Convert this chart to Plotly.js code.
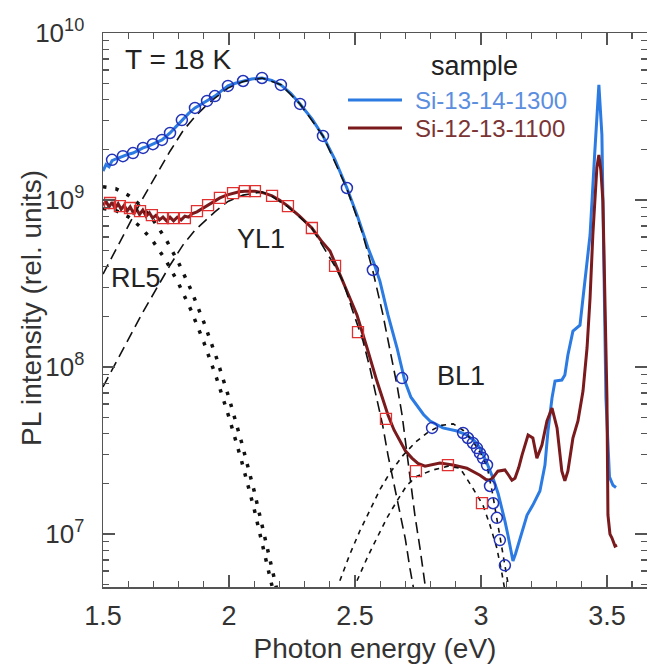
<!DOCTYPE html>
<html>
<head>
<meta charset="utf-8">
<script src="https://cdn.plot.ly/plotly-3.0.1.min.js"></script>
<style>
html,body{margin:0;padding:0;background:#fff;}
#chart{width:647px;height:665px;}
</style>
</head>
<body>
<div id="chart"></div>
<script>
// ---------- measured data (photon energy in eV, PL intensity in rel. units) ----------
// Experimental spectrum, sample Si-13-14-1300 (blue line)
var blueE = [1.500,1.512,1.524,1.536,1.550,1.565,1.579,1.600,1.619,1.640,1.659,1.680,1.698,1.716,1.734,1.750,1.766,1.790,1.813,1.840,1.865,1.890,1.913,1.944,1.970,1.996,2.025,2.056,2.090,2.131,2.170,2.206,2.245,2.282,2.330,2.373,2.420,2.468,2.510,2.552,2.575,2.599,2.631,2.667,2.698,2.722,2.746,2.772,2.798,2.849,2.905,2.944,2.975,2.996,3.024,3.048,3.068,3.083,3.095,3.107,3.118,3.127,3.137,3.147,3.165,3.183,3.206,3.234,3.254,3.266,3.282,3.294,3.308,3.321,3.333,3.345,3.365,3.381,3.393,3.405,3.421,3.433,3.452,3.468,3.480,3.486,3.496,3.510,3.524,3.536];
var blueI = [1.49e9,1.63e9,1.58e9,1.72e9,1.76e9,1.80e9,1.83e9,1.88e9,1.91e9,1.98e9,2.05e9,2.10e9,2.16e9,2.22e9,2.29e9,2.40e9,2.52e9,2.75e9,3.01e9,3.30e9,3.56e9,3.75e9,3.92e9,4.19e9,4.50e9,4.82e9,5.00e9,5.16e9,5.30e9,5.38e9,5.20e9,4.89e9,4.35e9,3.76e9,3.05e9,2.42e9,1.75e9,1.18e9,8.0e8,5.16e8,4.2e8,3.27e8,2.05e8,1.30e8,8.24e7,6.6e7,5.92e7,5.2e7,4.75e7,4.32e7,4.14e7,3.92e7,3.6e7,3.27e7,2.66e7,2.16e7,1.75e7,1.43e7,1.20e7,9.87e6,8.0e6,6.89e6,7.6e6,8.59e6,1.08e7,1.30e7,1.49e7,1.81e7,2.59e7,4.14e7,6.52e7,8.24e7,8.3e7,8.36e7,8.96e7,1.18e8,1.64e8,1.71e8,1.78e8,2.59e8,4.50e8,6.17e8,1.96e9,4.89e9,2.45e9,6.0e8,6.5e7,2.2e7,1.96e7,1.90e7];

// Experimental spectrum, sample Si-12-13-1100 (dark red line)
var redE = [1.500,1.512,1.524,1.536,1.548,1.560,1.572,1.584,1.596,1.608,1.620,1.632,1.645,1.658,1.671,1.684,1.697,1.710,1.724,1.738,1.752,1.766,1.780,1.795,1.810,1.825,1.840,1.855,1.873,1.895,1.917,1.940,1.964,1.990,2.016,2.040,2.063,2.103,2.140,2.171,2.200,2.234,2.280,2.329,2.370,2.401,2.430,2.452,2.480,2.508,2.548,2.587,2.631,2.655,2.679,2.700,2.726,2.750,2.778,2.810,2.837,2.889,2.944,2.996,3.020,3.036,3.050,3.067,3.095,3.110,3.123,3.135,3.150,3.163,3.187,3.206,3.215,3.222,3.242,3.262,3.282,3.302,3.321,3.333,3.345,3.365,3.385,3.405,3.421,3.433,3.444,3.460,3.468,3.476,3.484,3.492,3.500,3.504,3.512,3.520,3.532,3.540];
var redI = [9.3e8,9.8e8,9.1e8,9.7e8,8.9e8,9.5e8,8.8e8,9.3e8,8.6e8,9.1e8,8.4e8,8.9e8,8.2e8,8.7e8,8.0e8,8.4e8,7.8e8,8.1e8,7.6e8,7.9e8,7.5e8,7.9e8,7.5e8,7.9e8,7.6e8,8.0e8,7.9e8,8.3e8,8.5e8,8.9e8,9.3e8,9.8e8,1.03e9,1.07e9,1.10e9,1.12e9,1.13e9,1.13e9,1.10e9,1.06e9,1.00e9,9.2e8,8.0e8,6.8e8,5.6e8,4.95e8,3.9e8,3.27e8,2.6e8,2.05e8,1.30e8,8.24e7,5.16e7,4.2e7,3.61e7,3.15e7,2.85e7,2.65e7,2.55e7,2.6e7,2.66e7,2.59e7,2.48e7,2.25e7,2.12e7,2.10e7,2.2e7,2.38e7,2.42e7,2.25e7,2.10e7,2.16e7,2.5e7,2.97e7,3.92e7,3.76e7,3.2e7,2.85e7,3.41e7,4.75e7,5.68e7,4.32e7,2.38e7,2.08e7,2.38e7,3.76e7,4.75e7,7.18e7,1.30e8,2.59e8,6.17e8,1.56e9,1.86e9,1.5e9,9.86e8,2.59e8,6.52e7,1.30e7,1.0e7,9.47e6,8.47e6,8.59e6];

// Fit (sum of components), open circles for Si-13-14-1300
var blueFitE = [1.536,1.579,1.619,1.659,1.698,1.734,1.766,1.813,1.865,1.913,1.944,1.996,2.056,2.131,2.206,2.282,2.373,2.468,2.571,2.687,2.806,2.929,2.948,2.968,2.984,2.996,3.008,3.024,3.036,3.048,3.063,3.075,3.095];
var blueFitI = [1.74e9,1.83e9,1.91e9,2.05e9,2.16e9,2.29e9,2.52e9,3.01e9,3.56e9,3.92e9,4.19e9,4.82e9,5.16e9,5.38e9,4.89e9,3.76e9,2.42e9,1.18e9,3.81e8,8.59e7,4.32e7,4.03e7,3.76e7,3.51e7,3.27e7,3.05e7,2.85e7,2.59e7,1.94e7,1.53e7,1.25e7,9.2e6,6.5e6];

// Fit (sum of components), open squares for Si-12-13-1100
var redFitE = [1.528,1.567,1.607,1.647,1.694,1.738,1.778,1.825,1.873,1.917,1.964,2.016,2.063,2.103,2.171,2.234,2.329,2.421,2.512,2.623,2.742,2.869,3.004];
var redFitI = [9.6e8,9.2e8,8.96e8,8.59e8,8.13e8,7.8e8,7.8e8,7.8e8,8.59e8,9.33e8,1.03e9,1.10e9,1.13e9,1.13e9,1.06e9,9.2e8,6.8e8,4.03e8,1.62e8,4.89e7,2.38e7,2.59e7,1.53e7];

// RL5 component (dotted), two samples
var rl5E = [1.50,1.55,1.60,1.65,1.70,1.75,1.80,1.85,1.90,1.95,2.00,2.05,2.10,2.15,2.20,2.25];
var rl5BlueI = [1.20e9,1.17e9,1.07e9,9.25e8,7.55e8,5.81e8,4.21e8,2.88e8,1.86e8,1.14e8,6.53e7,3.54e7,1.81e7,8.75e6,3.99e6,1.71e6];
var rl5RedI  = [8.91e8,8.66e8,7.94e8,6.88e8,5.62e8,4.34e8,3.16e8,2.18e8,1.41e8,8.66e7,5.01e7,2.74e7,1.41e7,6.88e6,3.16e6,1.3e6];

// YL1 component (long dashes), two samples
var yl1BlueE = [1.500,1.548,1.579,1.659,1.766,1.817,1.865,1.913,1.944,1.996,2.056,2.131,2.206,2.282,2.373,2.468,2.530,2.571,2.610,2.647,2.667,2.687,2.703,2.718,2.738,2.758,2.770,2.785];
var yl1BlueI = [3.6e8,4.95e8,6.17e8,1.03e9,1.96e9,2.59e9,3.16e9,3.72e9,4.07e9,4.68e9,5.13e9,5.37e9,4.90e9,3.76e9,2.42e9,1.17e9,6.3e8,3.76e8,2.09e8,1.13e8,7.76e7,5.16e7,3.31e7,2.07e7,1.29e7,8.24e6,6.0e6,4.2e6];
var yl1RedE = [1.500,1.548,1.659,1.766,1.817,1.865,1.913,1.944,1.996,2.056,2.131,2.171,2.234,2.329,2.421,2.452,2.490,2.532,2.560,2.587,2.610,2.631,2.655,2.679,2.700,2.718,2.735];
var yl1RedI = [7.6e7,1.04e8,2.14e8,4.07e8,5.37e8,6.6e8,7.76e8,8.5e8,9.8e8,1.07e9,1.12e9,1.05e9,9.1e8,6.8e8,4.0e8,3.27e8,2.19e8,1.43e8,9.77e7,6.52e7,4.47e7,2.97e7,2.0e7,1.37e7,9.33e6,6.25e6,4.5e6];

// BL1 component (short dashes), two samples
var bl1BlueE = [2.44,2.48,2.52,2.56,2.60,2.64,2.69,2.74,2.79,2.84,2.89,2.93,2.97,3.00,3.025,3.045,3.065,3.08,3.095,3.11];
var bl1BlueI = [5.25e6,7.59e6,1.05e7,1.41e7,1.86e7,2.34e7,2.95e7,3.55e7,4.07e7,4.47e7,4.57e7,4.17e7,3.55e7,3.02e7,2.51e7,1.78e7,1.20e7,8.9e6,6.5e6,4.8e6];
var bl1RedE = [2.508,2.548,2.587,2.627,2.667,2.706,2.746,2.810,2.869,2.917,2.968,3.008,3.036,3.063,3.083,3.095];
var bl1RedI = [5.25e6,7.18e6,9.47e6,1.25e7,1.58e7,1.96e7,2.22e7,2.42e7,2.55e7,2.48e7,1.88e7,1.49e7,1.13e7,8.24e6,5.83e6,4.6e6];

// axis ticks
var xTickVals = [1.5,2,2.5,3,3.5];
var xTickText = ['1.5','2','2.5','3','3.5'];
var yTickVals = [1e7,1e8,1e9,1e10];
var yTickText = ['10<sup>7</sup>','10<sup>8</sup>','10<sup>9</sup>','10<sup>10</sup>'];

// ---------- styling ----------
var BLUE = '#2b7be3', RED = '#7a1a1c', INK = '#222222';
var FONT = 'Liberation Sans, Arial, Helvetica, sans-serif';

function comp(x, y, dash, width) {
  return {x: x, y: y, type: 'scatter', mode: 'lines', showlegend: false, hoverinfo: 'skip',
          line: {color: '#111', width: width, dash: dash}};
}

var traces = [
  {x: blueE, y: blueI, type: 'scatter', mode: 'lines', name: 'Si-13-14-1300', showlegend: false,
   line: {color: BLUE, width: 3}},
  {x: redE, y: redI, type: 'scatter', mode: 'lines', name: 'Si-12-13-1100', showlegend: false,
   line: {color: RED, width: 3}},
  comp(rl5E, rl5BlueI, '3.5px,9px', 3.5),
  comp(rl5E, rl5RedI, '3.5px,9px', 3.5),
  comp(yl1BlueE, yl1BlueI, '11px,6px', 1.6),
  comp(yl1RedE, yl1RedI, '11px,6px', 1.6),
  comp(bl1BlueE, bl1BlueI, '5px,5px', 1.6),
  comp(bl1RedE, bl1RedI, '5px,5px', 1.6),
  {x: blueFitE, y: blueFitI, type: 'scatter', mode: 'markers', showlegend: false,
   marker: {symbol: 'circle-open', size: 11, color: '#2233b8', line: {width: 1.5, color: '#2233b8'}}},
  {x: redFitE, y: redFitI, type: 'scatter', mode: 'markers', showlegend: false,
   marker: {symbol: 'square-open', size: 11, color: '#e03030', line: {width: 1.3, color: '#e03030'}}}
];

// minor y ticks (2..9 in each decade)
var yMinor = [];
for (var d = 6; d <= 9; d++) for (var m = 2; m <= 9; m++) yMinor.push(m * Math.pow(10, d));

var axisCommon = {
  showline: true, linecolor: '#555', linewidth: 1.5, mirror: 'allticks',
  ticks: 'inside', ticklen: 12, tickwidth: 1.5, tickcolor: '#555',
  showgrid: false, zeroline: false,
  tickfont: {family: FONT, size: 27, color: '#333'}
};

var layout = {
  width: 647, height: 665,
  margin: {l: 103, r: 0, t: 33, b: 78, pad: 0},
  paper_bgcolor: '#fff', plot_bgcolor: '#fff',
  font: {family: FONT, color: '#333'},
  showlegend: false,
  xaxis: Object.assign({}, axisCommon, {
    range: [1.5, 3.659], tickmode: 'array', tickvals: xTickVals, ticktext: xTickText,
    ticklabelstandoff: 4,
    minor: {dtick: 0.1, tick0: 1.5, ticks: 'inside', ticklen: 6, tickwidth: 1.3, tickcolor: '#555', showgrid: false},
    title: {text: 'Photon energy (eV)', font: {family: FONT, size: 28, color: '#333'}, standoff: 8},
    automargin: false
  }),
  yaxis: Object.assign({}, axisCommon, {
    type: 'log', range: [6.683, 10.0], tickmode: 'array', tickvals: yTickVals, ticktext: yTickText,
    tickfont: {family: FONT, size: 26, color: '#333'},
    ticklabelstandoff: 12,
    minor: {tickmode: 'array', tickvals: yMinor, ticks: 'inside', ticklen: 6, tickwidth: 1.3, tickcolor: '#555', showgrid: false},
    automargin: false
  }),
  shapes: [
    {type: 'line', xref: 'paper', yref: 'paper', x0: 0.4504, x1: 0.5496, y0: 0.879, y1: 0.879, line: {color: BLUE, width: 3}},
    {type: 'line', xref: 'paper', yref: 'paper', x0: 0.4504, x1: 0.5496, y0: 0.8285, y1: 0.8285, line: {color: RED, width: 3}}
  ],
  annotations: [
    {xref: 'paper', yref: 'paper', x: -0.1324, y: 0.5036, text: 'PL intensity (rel. units)', textangle: -90, showarrow: false, xanchor: 'center', yanchor: 'middle', font: {family: FONT, size: 28, color: '#333'}},
    {xref: 'paper', yref: 'paper', x: 0.682, y: 0.9404, text: 'sample', showarrow: false, xanchor: 'center', yanchor: 'middle', font: {family: FONT, size: 27, color: '#222'}},
    {xref: 'paper', yref: 'paper', x: 0.5699, y: 0.879, text: 'Si-13-14-1300', showarrow: false, xanchor: 'left', yanchor: 'middle', font: {family: FONT, size: 24, color: '#5b8ede'}},
    {xref: 'paper', yref: 'paper', x: 0.5699, y: 0.8285, text: 'Si-12-13-1100', showarrow: false, xanchor: 'left', yanchor: 'middle', font: {family: FONT, size: 24, color: '#7b3434'}},
    {xref: 'paper', yref: 'paper', x: 0.0368, y: 0.953, text: 'T = 18 K', showarrow: false, xanchor: 'left', yanchor: 'middle', font: {family: FONT, size: 28, color: INK}},
    {xref: 'paper', yref: 'paper', x: 0.2904, y: 0.628, text: 'YL1', showarrow: false, xanchor: 'center', yanchor: 'middle', font: {family: FONT, size: 27, color: INK}},
    {xref: 'paper', yref: 'paper', x: 0.0607, y: 0.5578, text: 'RL5', showarrow: false, xanchor: 'center', yanchor: 'middle', font: {family: FONT, size: 27, color: INK}},
    {xref: 'paper', yref: 'paper', x: 0.658, y: 0.3809, text: 'BL1', showarrow: false, xanchor: 'center', yanchor: 'middle', font: {family: FONT, size: 27, color: INK}}
  ]
};

Plotly.newPlot('chart', traces, layout, {staticPlot: true, displayModeBar: false});
</script>
</body>
</html>
